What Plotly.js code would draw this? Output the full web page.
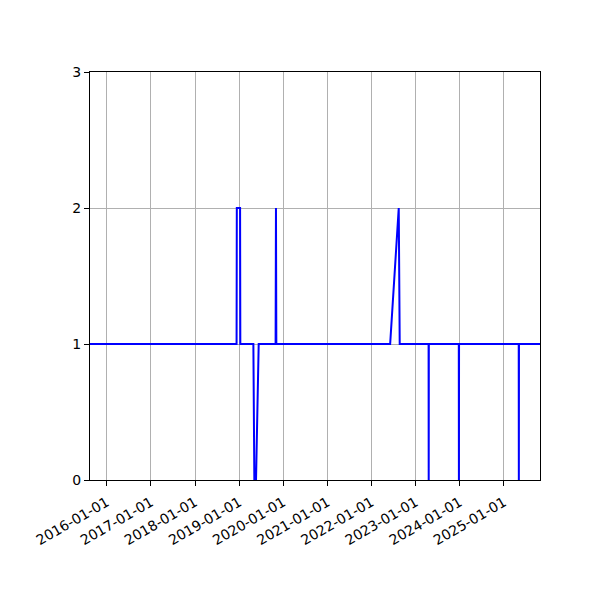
<!DOCTYPE html>
<html>
<head>
<meta charset="utf-8">
<script src="https://cdn.plot.ly/plotly-3.0.1.min.js"></script>
<style>
  body { margin: 0; background: #fff; }
  #chart { width: 600px; height: 600px; }
</style>
</head>
<body>
<div id="chart"></div>
<script>
// sample dates and values
let dates = [
    "2015-08-16",
    "2018-12-11", "2018-12-13", "2019-01-09", "2019-01-11",
    "2019-04-29", "2019-05-07", "2019-05-21", "2019-06-12",
    "2019-10-30", "2019-11-02", "2019-11-05",
    "2022-06-04", "2022-08-14", "2022-08-22",
    "2023-04-18", "2023-04-19", "2023-04-20",
    "2023-12-24", "2023-12-25", "2023-12-26",
    "2025-05-03", "2025-05-04", "2025-05-05",
    "2025-10-26"
];
let values = [
    1,
    1, 2, 2, 1,
    1, 0, 0, 1,
    1, 2, 1,
    1, 2, 1,
    1, 0, 1,
    1, 0, 1,
    1, 0, 1,
    1
];
let yTicks = [0, 1, 2, 3];
let xRange = ["2015-08-16", "2025-10-26"];

// line trace
let trace = {
    x: dates,
    y: values,
    type: "scatter",
    mode: "lines",
    line: {color: "#0000ff", width: 2},
    hoverinfo: "x+y"
};

// matplotlib-like layout
let layout = {
    width: 600,
    height: 600,
    margin: {l: 90, r: 60, t: 72, b: 120},
    paper_bgcolor: "white",
    plot_bgcolor: "white",
    font: {family: "DejaVu Sans", size: 13, color: "black"},
    showlegend: false,
    xaxis: {
        type: "date",
        range: xRange,
        tick0: "2016-01-01",
        dtick: "M12",
        tickformat: "%Y-%m-%d",
        tickangle: -30,
        tickfont: {size: 14},
        ticklabelstandoff: 3,
        ticks: "outside",
        ticklen: 5,
        tickcolor: "black",
        showgrid: true,
        gridcolor: "#b0b0b0",
        gridwidth: 1,
        showline: true,
        linecolor: "black",
        linewidth: 1,
        mirror: true,
        zeroline: false
    },
    yaxis: {
        range: [0, 3],
        tickvals: yTicks,
        tickfont: {size: 14},
        ticks: "outside",
        ticklen: 5,
        tickcolor: "black",
        showgrid: true,
        gridcolor: "#b0b0b0",
        gridwidth: 1,
        showline: true,
        linecolor: "black",
        linewidth: 1,
        mirror: true,
        zeroline: false
    }
};

Plotly.newPlot("chart", [trace], layout, {displayModeBar: false, staticPlot: true});
</script>
</body>
</html>
